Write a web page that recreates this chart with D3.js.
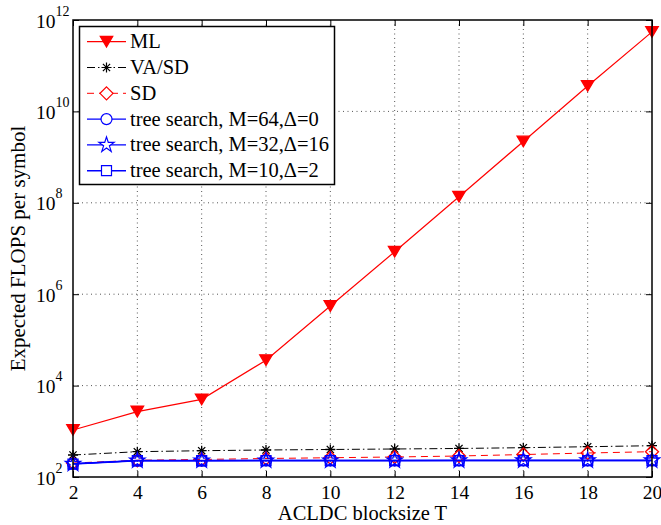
<!DOCTYPE html>
<html>
<head>
<meta charset="utf-8">
<script src="https://cdn.jsdelivr.net/npm/d3@7"></script>
<style>
  html, body { margin: 0; padding: 0; background: #fff; }
  svg { display: block; }
  text { font-family: "Liberation Serif", "Times New Roman", serif; fill: #000; }
</style>
</head>
<body>
<svg id="chart" width="661" height="525"></svg>
<script>
// Block sizes on the x axis
const blockSizes = [2, 4, 6, 8, 10, 12, 14, 16, 18, 20];

// Expected FLOPS per symbol for each detector
const mlFlops     = [1070, 2700, 5000, 36000, 5.5e5, 8.5e6, 1.36e8, 2.2e9, 3.6e10, 5.5e11];
const vaSdFlops   = [303, 358, 376, 390, 400, 410, 421, 438, 460, 484];
const sdFlops     = [202, 232, 242, 254, 264, 274, 288, 310, 335, 358];
const tree64Flops = [196, 229, 229, 230, 230, 230, 231, 231, 231, 231];
const tree32Flops = [194, 228, 228, 229, 229, 229, 230, 230, 230, 230];
const tree10Flops = [192, 227, 227, 228, 228, 228, 229, 229, 229, 229];

// Axis ticks
const xTicks = [2, 4, 6, 8, 10, 12, 14, 16, 18, 20];
const yTickExponents = [2, 4, 6, 8, 10, 12];

const seriesNames = [
  "ML",
  "VA/SD",
  "SD",
  "tree search, M=64,\u0394=0",
  "tree search, M=32,\u0394=16",
  "tree search, M=10,\u0394=2"
];

// Shape helpers (paths centred on 0,0)
function triDown(s) {
  const w = s / 2, h = s * 0.85;
  return `M${-w},${-h/2}L${w},${-h/2}L0,${h/2}Z`;
}
function diamond(r) {
  return `M0,${-r}L${r},0L0,${r}L${-r},0Z`;
}
function asterisk(r) {
  const d = r * 0.72;
  return `M${-r},0L${r},0M0,${-r}L0,${r}M${-d},${-d}L${d},${d}M${-d},${d}L${d},${-d}`;
}
function pentagram(R) {
  const r = R * 0.382;
  let p = "";
  for (let i = 0; i < 10; i++) {
    const rad = i % 2 === 0 ? R : r;
    const a = -Math.PI / 2 + i * Math.PI / 5;
    p += (i === 0 ? "M" : "L") + (rad * Math.cos(a)).toFixed(2) + "," + (rad * Math.sin(a)).toFixed(2);
  }
  return p + "Z";
}
function square(s) {
  const h = s / 2;
  return `M${-h},${-h}L${h},${-h}L${h},${h}L${-h},${h}Z`;
}
function circle(r) {
  return `M${r},0A${r},${r} 0 1,1 ${-r},0A${r},${r} 0 1,1 ${r},0Z`;
}

const series = [
  { name: seriesNames[0], values: mlFlops, color: "#ff0000", dash: null, width: 1.2,
    marker: triDown(12.5), fill: "#ff0000" },
  { name: seriesNames[1], values: vaSdFlops, color: "#000000", dash: "8,3,1.5,3", width: 1,
    marker: asterisk(5), fill: "none" },
  { name: seriesNames[2], values: sdFlops, color: "#ff0000", dash: "7,5", width: 1,
    marker: diamond(6.5), fill: "none" },
  { name: seriesNames[3], values: tree64Flops, color: "#0000ff", dash: null, width: 1.4,
    marker: circle(5.5), fill: "none" },
  { name: seriesNames[4], values: tree32Flops, color: "#0000ff", dash: null, width: 1.4,
    marker: pentagram(8), fill: "none" },
  { name: seriesNames[5], values: tree10Flops, color: "#0000ff", dash: null, width: 1.4,
    marker: square(10), fill: "none" }
];

const svg = d3.select("#chart");
const plot = { left: 73, right: 652, top: 20, bottom: 477 };

const x = d3.scaleLinear().domain([2, 20]).range([plot.left, plot.right]);
const y = d3.scaleLog().domain([1e2, 1e12]).range([plot.bottom, plot.top]);

// Dotted grid
const grid = svg.append("g").attr("stroke", "#555").attr("stroke-width", 1)
  .attr("stroke-dasharray", "1,3.5");
xTicks.slice(1, -1).forEach(t => {
  grid.append("line").attr("x1", x(t)).attr("x2", x(t))
    .attr("y1", plot.top).attr("y2", plot.bottom);
});
yTickExponents.slice(1, -1).forEach(e => {
  grid.append("line").attr("x1", plot.left).attr("x2", plot.right)
    .attr("y1", y(Math.pow(10, e))).attr("y2", y(Math.pow(10, e)));
});

// Axes with inward ticks on all four sides
const tickLen = 6;
const xAxisB = d3.axisBottom(x).tickValues(xTicks).tickSize(-tickLen).tickPadding(8)
  .tickFormat(d3.format("d"));
const xAxisT = d3.axisTop(x).tickValues(xTicks).tickSize(-tickLen).tickFormat("");
const yVals = yTickExponents.map(e => Math.pow(10, e));
const yAxisL = d3.axisLeft(y).tickValues(yVals).tickSize(-tickLen).tickFormat("");
const yAxisR = d3.axisRight(y).tickValues(yVals).tickSize(-tickLen).tickFormat("");

function styleAxis(g) {
  g.select(".domain").remove();
  g.selectAll(".tick line").attr("stroke", "#000").attr("stroke-width", 1);
}

const gxB = svg.append("g").attr("transform", `translate(0,${plot.bottom})`).call(xAxisB).call(styleAxis);
gxB.selectAll(".tick text")
  .style("font-family", '"Liberation Serif", serif')
  .style("font-size", "19.5px").attr("fill", "#000").attr("dy", "0.71em");
svg.append("g").attr("transform", `translate(0,${plot.top})`).call(xAxisT).call(styleAxis);
const gyL = svg.append("g").attr("transform", `translate(${plot.left},0)`).call(yAxisL).call(styleAxis);
svg.append("g").attr("transform", `translate(${plot.right},0)`).call(yAxisR).call(styleAxis);

// Power-of-ten labels for the log axis: base "10" with a raised exponent
gyL.selectAll(".tick").each(function(d) {
  const exp = String(Math.round(Math.log10(d)));
  const t = d3.select(this).append("text")
    .attr("x", -37).attr("y", 7)
    .attr("text-anchor", "start")
    .style("font-family", '"Liberation Serif", serif')
    .style("font-size", "19.5px");
  t.append("tspan").text("10");
  t.append("tspan").attr("dy", -12).style("font-size", "14px").text(exp);
});

// Series lines and markers
const line = d3.line().x((d, i) => x(blockSizes[i])).y(d => y(d));
const marks = svg.append("g");
series.forEach(s => {
  marks.append("path")
    .attr("d", line(s.values))
    .attr("fill", "none")
    .attr("stroke", s.color)
    .attr("stroke-width", s.width)
    .attr("stroke-dasharray", s.dash);
  marks.selectAll(null).data(s.values).join("path")
    .attr("transform", (d, i) => `translate(${x(blockSizes[i])},${y(d)})`)
    .attr("d", s.marker)
    .attr("fill", s.fill)
    .attr("stroke", s.color)
    .attr("stroke-width", 1.3);
});

// Plot frame
svg.append("rect")
  .attr("x", plot.left).attr("y", plot.top)
  .attr("width", plot.right - plot.left).attr("height", plot.bottom - plot.top)
  .attr("fill", "none").attr("stroke", "#000").attr("stroke-width", 1.5);

// Axis titles
svg.append("text")
  .attr("x", (plot.left + plot.right) / 2).attr("y", 520)
  .attr("text-anchor", "middle").style("font-size", "20.5px")
  .text("ACLDC blocksize T");
svg.append("text")
  .attr("transform", `translate(25,${(plot.top + plot.bottom) / 2}) rotate(-90)`)
  .attr("text-anchor", "middle").style("font-size", "21px")
  .text("Expected FLOPS per symbol");

// Legend
const legend = svg.append("g");
legend.append("rect")
  .attr("x", 79.5).attr("y", 26.5).attr("width", 255).attr("height", 158)
  .attr("fill", "#fff").attr("stroke", "#000").attr("stroke-width", 1.5);
const rowY = d3.scaleLinear().domain([0, 5]).range([41.7, 170.7]);
series.forEach((s, i) => {
  const yy = rowY(i);
  legend.append("line")
    .attr("x1", 87).attr("x2", 126).attr("y1", yy).attr("y2", yy)
    .attr("stroke", s.color).attr("stroke-width", s.width)
    .attr("stroke-dasharray", s.dash);
  legend.append("path")
    .attr("transform", `translate(106.5,${yy})`)
    .attr("d", s.marker)
    .attr("fill", s.fill === "none" ? "#fff" : s.fill)
    .attr("stroke", s.color).attr("stroke-width", 1.2);
  legend.append("text")
    .attr("x", 130).attr("y", yy + 6.5)
    .style("font-size", "20.5px")
    .text(s.name);
});
</script>
</body>
</html>
